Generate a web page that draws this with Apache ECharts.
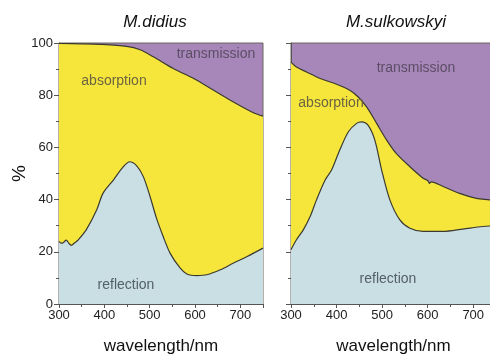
<!DOCTYPE html>
<html><head><meta charset="utf-8">
<script src="https://cdn.jsdelivr.net/npm/echarts@6/dist/echarts.min.js"></script>
<style>html,body{margin:0;padding:0;background:#fff;}#c{width:490px;height:358px;}</style>
</head><body><div id="c"></div>
<script>
// M.didius
var didiusReflWl = [300,305,310,316,322,327,335,342,360,383,397,420,442,456,471,486,501,515,530,545,567,582,604,626,656,685,715,750];
var didiusRefl   = [24,23.3,23.6,24.5,23.2,22.5,23.5,24.5,28.4,36,42.4,47.5,52.6,54.5,53,48.8,41.1,32.9,25.8,19.5,13.8,11.5,10.9,11.2,13.1,15.7,18.2,21.4];
var didiusTopWl  = [300,350,390,449,479,508,552,597,641,685,730,750];
var didiusTop    = [99.8,99.7,99.5,98.7,97.4,94.7,90.2,86.4,81.9,77.4,73.2,72];
// M.sulkowskyi
var sulkReflWl = [300,312,327,342,356,375,389,407,426,444,455,469,484,499,517,539,561,590,634,677,721,750];
var sulkRefl   = [20.8,24.6,28.4,33.5,39.9,47.5,51.3,59,66,69.2,69.8,68.5,62.8,51.3,39.9,32.2,29,27.8,27.8,28.7,29.7,30];
var sulkTopWl  = [300,312,334,364,400,429,447,466,488,510,531,561,590,600,604,608,634,670,707,736,750];
var sulkTop    = [92.7,90.8,88.9,86.4,84.2,81.9,79.4,75.5,69.2,62.8,57.7,52.6,48.2,47.3,46.2,46.8,45,42.4,40.5,39.9,39.5];
var xTicks = [300,400,500,600,700];
var yTicks = [0,20,40,60,80,100];
var titles = ['M.didius','M.sulkowskyi'];

function zip(a,b){return a.map(function(v,i){return [v,b[i]];});}
var YELLOW='#F6E63C', PURPLE='#A787B9', BLUE='#C9DFE4', LINE='#3b3a30';
var chart = echarts.init(document.getElementById('c'));
var tickFont = {fontFamily:'Liberation Sans Narrow, Liberation Sans, Arial, sans-serif', fontSize:13, color:'#222'};
function xAxis(i){return {gridIndex:i,type:'value',min:300,max:750,interval:100,
  name:'wavelength/nm',nameLocation:'middle',nameGap:34,
  nameTextStyle:{fontFamily:'Liberation Sans, Arial, sans-serif',fontSize:17,color:'#111'},
  axisLine:{show:true,onZero:false,lineStyle:{color:'#555',width:1}},
  axisTick:{show:true,length:4,lineStyle:{color:'#555'}},
  minorTick:{show:true,splitNumber:2,length:3,lineStyle:{color:'#555'}},
  splitLine:{show:false},
  axisLabel:Object.assign({margin:5,formatter:function(v){return xTicks.indexOf(v)>=0?String(v):'';}},tickFont)};}
function yAxis(i){return {gridIndex:i,type:'value',min:0,max:100,interval:20,
  name:i===0?'%':'',nameLocation:'middle',nameGap:30,nameRotate:90,nameMoveOverlap:false,
  nameTextStyle:{fontFamily:'Liberation Sans, Arial, sans-serif',fontSize:19,color:'#111'},
  axisLine:{show:true,lineStyle:{color:'#555',width:1}},
  axisTick:{show:true,length:5,lineStyle:{color:'#555'}},
  minorTick:{show:true,splitNumber:2,length:3,lineStyle:{color:'#555'}},
  splitLine:{show:false},
  axisLabel:Object.assign({show:i===0,margin:6,formatter:function(v){return yTicks.indexOf(v)>=0?String(v):'';}},tickFont)};}
function areaSeries(i,data,color){return {type:'line',xAxisIndex:i,yAxisIndex:i,data:data,showSymbol:false,symbol:'none',smooth:0.3,
  lineStyle:{color:LINE,width:1.2},areaStyle:{color:color,opacity:1},silent:true};}
function lbl(x,y,t,c){return {type:'text',x:x,y:y,z:100,style:{text:t,fill:c,font:'14px Liberation Sans, Arial, sans-serif',align:'center',verticalAlign:'middle'}};}
chart.setOption({
  animation:false,
  title:[
    {text:titles[0],left:150,top:9,textAlign:'center',textStyle:{fontFamily:'Liberation Sans, Arial, sans-serif',fontStyle:'italic',fontWeight:'normal',fontSize:17,color:'#111'}},
    {text:titles[1],left:391,top:9,textAlign:'center',textStyle:{fontFamily:'Liberation Sans, Arial, sans-serif',fontStyle:'italic',fontWeight:'normal',fontSize:17,color:'#111'}}
  ],
  grid:[
    {left:59,top:43,width:204,height:261,outerBoundsMode:'none',containLabel:false,show:true,backgroundColor:PURPLE,borderColor:'#6b6560',borderWidth:1},
    {left:291,top:43,width:205,height:261,outerBoundsMode:'none',containLabel:false,show:true,backgroundColor:PURPLE,borderColor:'#6b6560',borderWidth:1}
  ],
  xAxis:[xAxis(0),xAxis(1)],
  yAxis:[yAxis(0),yAxis(1)],
  series:[
    areaSeries(0,zip(didiusTopWl,didiusTop),YELLOW),
    areaSeries(0,zip(didiusReflWl,didiusRefl),BLUE),
    areaSeries(1,zip(sulkTopWl,sulkTop),YELLOW),
    areaSeries(1,zip(sulkReflWl,sulkRefl),BLUE)
  ],
  graphic:{elements:[
    lbl(216,54,'transmission','#5c4e66'),
    lbl(114,81,'absorption','#6b6440'),
    lbl(126,285,'reflection','#556068'),
    lbl(416,68,'transmission','#5c4e66'),
    lbl(331,103,'absorption','#6b6440'),
    lbl(388,279,'reflection','#556068')
  ]}
});
</script></body></html>
